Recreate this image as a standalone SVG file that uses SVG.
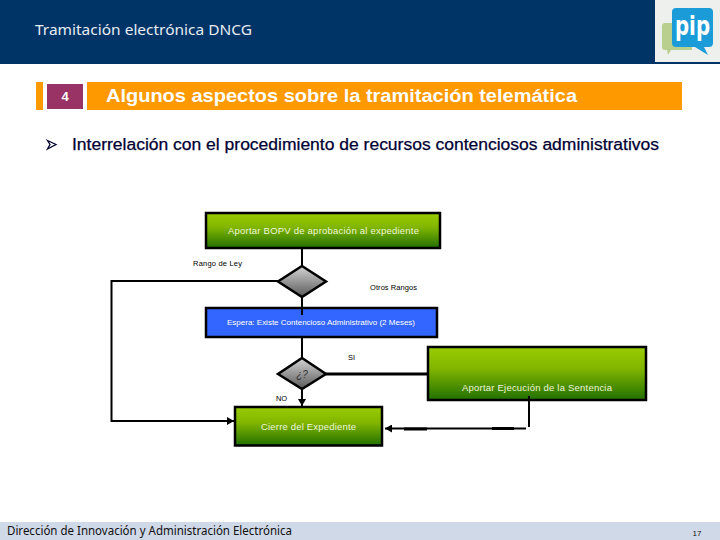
<svg xmlns="http://www.w3.org/2000/svg" width="720" height="540" viewBox="0 0 720 540">
<defs>
<linearGradient id="g" x1="0" y1="0" x2="0" y2="1"><stop offset="0" stop-color="#99cc00"/><stop offset="0.4" stop-color="#82b600"/><stop offset="1" stop-color="#227000"/></linearGradient>
<linearGradient id="d" x1="0" y1="0" x2="0" y2="1"><stop offset="0" stop-color="#d4d4d4"/><stop offset="1" stop-color="#5a5a5a"/></linearGradient>
<marker id="ah" markerUnits="userSpaceOnUse" markerWidth="8" markerHeight="8" refX="7" refY="4" orient="auto"><path d="M0 0L7 4L0 8Z" fill="#000"/></marker>
</defs>
<style>
text{font-family:"Liberation Sans",Arial,sans-serif}
.t{font-family:"Noto Sans","DejaVu Sans",sans-serif}
.box{stroke:#000;stroke-width:2.5}
.c{fill:none;stroke:#000;stroke-width:2}
.w{fill:#f0f6d8;font-size:9.5px}
.l{fill:#000;font-size:7.5px}
</style>
<rect width="720" height="540" fill="#fff"/>
<g id="header">
<rect width="720" height="64" fill="#003366"/>
<text x="35" y="35" class="t" font-size="14" fill="#e6edf3" textLength="217" lengthAdjust="spacingAndGlyphs">Tramitación electrónica DNCG</text>
</g>
<g id="logo">
<rect x="655" y="0" width="65" height="62" fill="#eef0ee"/>
<path d="M665 23H692V50H671L668 55L667 50H665Q662 50 662 47V26Q662 23 665 23Z" fill="#b9cf8e"/>
<path d="M676 8H709Q713 8 713 12V43Q713 47 709 47H704L708 55L695 47H676Q672 47 672 43V12Q672 8 676 8Z" fill="#1b9cd8"/>
<text x="675" y="35" font-size="26" font-weight="bold" fill="#fff" textLength="35" lengthAdjust="spacingAndGlyphs" style="font-family:'DejaVu Sans',sans-serif">pip</text>
</g>
<g id="section">
<rect x="36" y="82" width="7" height="28" fill="#ff9900"/>
<rect x="47" y="84" width="36" height="25" fill="#993366"/>
<text x="65" y="101" font-size="13" font-weight="bold" fill="#fff" text-anchor="middle">4</text>
<rect x="87" y="82" width="595" height="28" fill="#ff9900"/>
<text x="106" y="102" font-size="18.5" font-weight="bold" fill="#fff" textLength="471" lengthAdjust="spacingAndGlyphs">Algunos aspectos sobre la tramitación telemática</text>
</g>
<g id="bullet">
<path d="M47.5 140.5L56 144.5L47.5 149L50 144.5Z" fill="#fff" stroke="#000033" stroke-width="1.3"/>
<text x="72" y="150" font-size="16" fill="#000033" stroke="#000033" stroke-width="0.25" textLength="587" lengthAdjust="spacingAndGlyphs">Interrelación con el procedimiento de recursos contenciosos administrativos</text>
</g>
<g id="connectors">
<path class="c" d="M302 248V266"/>
<path class="c" d="M302 297V315"/>
<path class="c" d="M278 281H111.500V421H234" marker-end="url(#ah)"/>
<path class="c" d="M302 337V358"/>
<path class="c" d="M302 389V406" marker-end="url(#ah)"/>
<path class="c" style="stroke-width:3" d="M326 374H428"/>
</g>
<g id="n1"><rect class="box" x="206" y="213" width="234" height="35" fill="url(#g)"/>
<text x="228" y="234" class="w" textLength="191" lengthAdjust="spacing">Aportar BOPV de aprobación al expediente</text></g>
<g id="n2"><path class="box" d="M302 266L326 281.500L302 297L278 281.500Z" fill="url(#d)"/></g>
<g id="n3"><rect x="206" y="308" width="231" height="29" fill="#3366ff" class="box"/>
<path class="c" d="M302 308V315"/>
<text x="227" y="325" style="fill:#fff;font-size:8px" textLength="188" lengthAdjust="spacing">Espera: Existe Contencioso Administrativo (2  Meses)</text></g>
<g id="n4"><path class="box" d="M302 358L326 374L302 389L278 374Z" fill="url(#d)"/>
<text x="302" y="378" font-size="10" font-style="italic" fill="#333" text-anchor="middle">¿?</text></g>
<g id="n5"><rect class="box" x="235" y="407" width="147" height="38.500" fill="url(#g)"/>
<text x="261" y="430" class="w" textLength="95" lengthAdjust="spacing">Cierre del Expediente</text></g>
<g id="n6"><rect class="box" x="428" y="347" width="218" height="53" fill="url(#g)"/>
<text x="462" y="391" class="w" textLength="150" lengthAdjust="spacing">Aportar Ejecución de la Sentencia</text></g>
<g id="connectors2">
<path class="c" d="M529 396V427"/>
<path class="c" d="M526 428.500H385" marker-end="url(#ah)"/>
<path class="c" style="stroke-width:3" d="M404 429H427"/>
<path class="c" style="stroke-width:3" d="M492 428.500H514"/>
</g>
<g id="labels">
<text x="193" y="266" class="l" textLength="49" lengthAdjust="spacing">Rango de Ley</text>
<text x="370" y="290" class="l" textLength="47" lengthAdjust="spacing">Otros Rangos</text>
<text x="348" y="360" class="l">SI</text>
<text x="276" y="401" class="l" textLength="11" lengthAdjust="spacing">NO</text>
</g>
<g id="footer">
<rect y="522" width="720" height="18" fill="#d0d9e8"/>
<text x="7" y="535" class="t" font-size="12" fill="#111" textLength="285" lengthAdjust="spacingAndGlyphs">Dirección de Innovación y Administración Electrónica</text>
<text x="697" y="536" font-size="8" fill="#111" text-anchor="middle">17</text>
</g>
</svg>
